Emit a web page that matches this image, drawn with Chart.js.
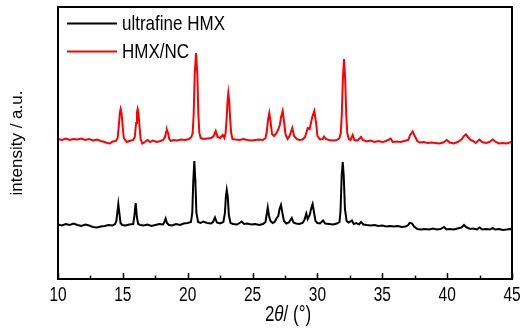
<!DOCTYPE html>
<html>
<head>
<meta charset="utf-8">
<script src="https://cdn.jsdelivr.net/npm/chart.js@4.4.1/dist/chart.umd.min.js"></script>
<style>
  html, body { margin: 0; padding: 0; background: #fff; }
  #wrap { width: 522px; height: 332px; position: relative; }
</style>
</head>
<body>
<div id="wrap"><canvas id="xrd"></canvas></div>
<script>
// XRD patterns, [2theta, intensity a.u.] (HMX/NC is offset upward)
const ultrafineHmx = [
    [10.0, 54.5], [10.3, 53.5], [10.6, 55], [10.9, 54], [11.2, 55.5], [11.5, 54], [11.8, 53],
    [12.1, 54.5], [12.4, 53.5], [12.7, 52], [13.0, 51.5], [13.3, 52.5], [13.6, 53], [13.9, 54],
    [14.2, 53.5], [14.4, 55],
    [14.5, 58], [14.57, 66], [14.65, 75], [14.73, 66], [14.82, 56], [14.95, 54],
    [15.2, 53.5], [15.5, 54.5], [15.8, 55],
    [15.88, 62], [15.99, 76], [16.08, 62], [16.18, 55], [16.35, 54],
    [16.6, 53.5], [16.9, 54.5], [17.2, 53], [17.5, 54], [17.8, 55], [18.1, 54.5],
    [18.2, 57], [18.3, 60.5], [18.4, 56], [18.55, 54],
    [18.8, 53.5], [19.1, 55], [19.4, 54], [19.7, 55.5], [20.0, 56], [20.25, 57],
    [20.35, 66], [20.43, 98], [20.51, 118], [20.59, 98], [20.67, 66], [20.8, 57],
    [21.0, 56], [21.2, 57.5], [21.5, 56], [21.8, 55.5], [21.95, 57], [22.1, 61.5], [22.25, 56.5],
    [22.5, 55.5], [22.75, 57],
    [22.87, 66], [22.94, 82], [23.01, 89], [23.09, 82], [23.17, 64], [23.3, 56], [23.5, 55],
    [23.8, 54.5], [24.0, 56], [24.16, 57.5], [24.35, 55], [24.6, 55.5], [24.9, 54.5], [25.2, 55],
    [25.5, 54], [25.8, 55], [26.0, 57],
    [26.08, 64], [26.17, 71.5], [26.27, 63], [26.38, 58], [26.55, 56], [26.7, 57],
    [26.86, 61], [26.98, 63], [27.08, 70], [27.19, 74], [27.3, 66], [27.42, 58], [27.6, 55.5],
    [27.8, 56.5], [28.02, 61], [28.15, 56.5], [28.35, 55.5], [28.6, 55], [28.85, 56], [29.0, 59],
    [29.14, 65.5], [29.25, 60], [29.4, 64], [29.55, 72], [29.63, 75], [29.72, 68], [29.85, 58],
    [30.0, 56], [30.2, 55.5], [30.43, 58.5], [30.6, 55.5], [30.9, 55], [31.2, 54.5], [31.5, 55.5],
    [31.7, 57],
    [31.78, 68], [31.87, 103], [31.95, 117], [32.03, 103], [32.12, 70], [32.25, 58],
    [32.4, 56.5], [32.55, 57.5], [32.66, 58.5], [32.8, 55], [33.0, 56], [33.2, 54.5], [33.36, 57],
    [33.55, 54.5], [33.8, 54], [34.1, 53.5], [34.4, 54], [34.7, 53], [35.0, 53.5], [35.3, 52.5],
    [35.6, 53], [35.9, 52.5], [36.2, 53], [36.5, 52], [36.8, 52.5], [37.0, 54],
    [37.1, 56], [37.19, 56], [37.3, 55.5], [37.45, 52.5],
    [37.7, 50], [38.0, 49.5], [38.3, 50], [38.6, 49.5], [38.9, 50.5], [39.2, 49.5], [39.5, 50],
    [39.76, 52], [39.95, 49.5], [40.2, 50], [40.5, 49.5], [40.8, 50.5], [41.1, 51.5], [41.3, 54],
    [41.45, 52], [41.6, 51], [41.8, 50], [42.0, 50.5], [42.3, 49.5], [42.5, 51.5], [42.7, 49.5],
    [43.0, 50], [43.3, 49.5], [43.5, 51], [43.7, 49.5], [44.0, 50], [44.3, 49], [44.6, 49.5],
    [44.8, 50], [45.0, 49.5]
];

const hmxNc = [
    [10.0, 140], [10.3, 139], [10.6, 140.5], [10.9, 139], [11.2, 140], [11.5, 139.5], [11.8, 140.5],
    [12.1, 139], [12.4, 140], [12.7, 138.5], [13.0, 139.5], [13.3, 138], [13.6, 137], [13.8, 136],
    [14.0, 135.5], [14.2, 137.5], [14.45, 138],
    [14.6, 141], [14.7, 155], [14.77, 166], [14.83, 170], [14.9, 166], [14.97, 155], [15.07, 141],
    [15.3, 137], [15.5, 138], [15.8, 139],
    [15.92, 142], [16.02, 156], [16.09, 167], [16.14, 170], [16.2, 166], [16.27, 155], [16.37, 140],
    [16.5, 135.5],
    [16.7, 137], [16.9, 139], [17.1, 137], [17.3, 138.5], [17.6, 137], [17.9, 138], [18.1, 139],
    [18.25, 142], [18.33, 147], [18.4, 149], [18.48, 146], [18.58, 140], [18.7, 138],
    [18.9, 139], [19.2, 138.5], [19.5, 139.5], [19.8, 139], [20.1, 140], [20.28, 142],
    [20.38, 146], [20.46, 165], [20.54, 205], [20.64, 226], [20.74, 205], [20.82, 165], [20.9, 146],
    [21.0, 141],
    [21.2, 140], [21.5, 140.5], [21.8, 141], [22.0, 143], [22.16, 148], [22.3, 142], [22.5, 141],
    [22.7, 144], [22.83, 141],
    [22.92, 146], [23.0, 160], [23.07, 178], [23.13, 186], [23.2, 178], [23.27, 160], [23.35, 146],
    [23.45, 140],
    [23.7, 139.5], [24.0, 139], [24.3, 140], [24.6, 139], [24.9, 138.5], [25.2, 139], [25.5, 139.5],
    [25.8, 139], [26.0, 141],
    [26.1, 148], [26.2, 160], [26.29, 166], [26.38, 158], [26.5, 145], [26.65, 143], [26.8, 145],
    [26.96, 149], [27.1, 154], [27.2, 162], [27.32, 168], [27.43, 157], [27.55, 144], [27.7, 140],
    [27.85, 143], [28.06, 151], [28.2, 143], [28.4, 140], [28.6, 139], [28.85, 139.5], [29.05, 142],
    [29.25, 151], [29.4, 150], [29.6, 162], [29.76, 168], [29.9, 156], [30.0, 143], [30.2, 139.5],
    [30.4, 140], [30.51, 142.5], [30.65, 140], [30.9, 139], [31.2, 138.5], [31.5, 139], [31.7, 141],
    [31.8, 146], [31.88, 165], [31.96, 200], [32.05, 220], [32.14, 200], [32.22, 165], [32.3, 146],
    [32.42, 140], [32.55, 139],
    [32.72, 144], [32.85, 139], [33.1, 138.5], [33.36, 142], [33.5, 139],
    [33.8, 137.5], [34.1, 138.5], [34.4, 137], [34.7, 138], [35.0, 137], [35.3, 138], [35.65, 140.5],
    [35.8, 137], [36.1, 137.5], [36.4, 137], [36.7, 138], [37.0, 139],
    [37.15, 144], [37.34, 147.5], [37.5, 143], [37.7, 138], [37.9, 136.5],
    [38.2, 137], [38.5, 136], [38.8, 136.5], [39.1, 136], [39.4, 135.5], [39.7, 136.5], [39.97, 139],
    [40.2, 136.5], [40.5, 135.5], [40.8, 137], [41.1, 139.5], [41.3, 143], [41.45, 144.5],
    [41.6, 142], [41.8, 139], [42.0, 138], [42.2, 136], [42.48, 139.5], [42.7, 137], [43.0, 136],
    [43.25, 137], [43.51, 139.5], [43.75, 137], [44.0, 135.5], [44.3, 136], [44.6, 135.5],
    [44.8, 136.5], [45.0, 137]
];

const seriesNames = ['ultrafine HMX', 'HMX/NC'];
const seriesColors = ['#000000', '#ff0000'];
const xTickValues = [10, 15, 20, 25, 30, 35, 40, 45];

const FONT = 'Arial, "Liberation Sans", sans-serif';

// the original figure's lettering is stretched vertically, so text is drawn scaled
function stretchedText(ctx, text, x, y, font, sy, align) {
    ctx.save();
    ctx.font = font;
    ctx.textAlign = align || 'left';
    ctx.textBaseline = 'middle';
    ctx.translate(x, y);
    ctx.scale(1, sy);
    ctx.fillText(text, 0, 0);
    ctx.restore();
}

// frame, inward ticks (major every 5, minor every 2.5), tick labels, legend and the 2θ title
const framePlugin = {
    id: 'frame',
    afterDraw(chart) {
        const { ctx, chartArea: a, scales } = chart;
        ctx.save();
        ctx.strokeStyle = '#000';
        ctx.lineWidth = 2;
        ctx.strokeRect(a.left, a.top, a.right - a.left, a.bottom - a.top);
        ctx.lineWidth = 1.5;
        for (let v = 10; v <= 45; v += 2.5) {
            const x = Math.round(scales.x.getPixelForValue(v)) + 0.5;
            const len = v % 5 === 0 ? 6 : 3.5;
            ctx.beginPath();
            ctx.moveTo(x, a.bottom);
            ctx.lineTo(x, a.bottom - len);
            ctx.stroke();
        }

        ctx.fillStyle = '#000';
        scales.x.ticks.forEach(t => {
            stretchedText(ctx, String(t.value), scales.x.getPixelForValue(t.value), a.bottom + 16,
                '15.5px ' + FONT, 1.3, 'center');
        });

        // legend inside the frame, top left
        chart.data.datasets.forEach((ds, i) => {
            const y = a.top + 16.5 + i * 28;
            ctx.strokeStyle = ds.borderColor;
            ctx.lineWidth = 2;
            ctx.beginPath();
            ctx.moveTo(a.left + 9, y);
            ctx.lineTo(a.left + 59, y);
            ctx.stroke();
            ctx.fillStyle = '#000';
            stretchedText(ctx, ds.label, a.left + 64, y + 1, '17px ' + FONT, 1.18);
        });

        // x title with italic theta
        const parts = [['2', 'normal'], ['\u03B8', 'italic'], ['/ (\u00B0)', 'normal']];
        let total = 0;
        parts.forEach(p => { ctx.font = p[1] + ' 17px ' + FONT; total += ctx.measureText(p[0]).width; });
        let x = (a.left + a.right) / 2 + 3 - total / 2;
        parts.forEach(p => {
            const f = p[1] + ' 17px ' + FONT;
            stretchedText(ctx, p[0], x, 315, f, 1.25);
            ctx.font = f;
            x += ctx.measureText(p[0]).width;
        });
        ctx.restore();
    }
};

new Chart(document.getElementById('xrd'), {
    type: 'line',
    data: {
        datasets: [ultrafineHmx, hmxNc].map((pts, i) => ({
            label: seriesNames[i],
            data: pts.map(p => ({ x: p[0], y: p[1] })),
            borderColor: seriesColors[i],
            backgroundColor: seriesColors[i],
            borderWidth: 2,
            pointRadius: 0,
            tension: 0,
            fill: false,
        }))
    },
    options: {
        responsive: true,
        maintainAspectRatio: false,
        animation: false,
        layout: { padding: { top: 7, right: 10, left: 0, bottom: 0 } },
        plugins: {
            tooltip: { enabled: false },
            legend: { display: false }
        },
        scales: {
            x: {
                type: 'linear',
                min: 10,
                max: 45,
                afterFit: s => { s.height = 53; },
                afterBuildTicks: s => { s.ticks = xTickValues.map(v => ({ value: v })); },
                grid: { display: false, drawTicks: false },
                border: { display: false },
                ticks: { display: false },
            },
            y: {
                min: 0,
                max: 272,
                afterFit: s => { s.width = 58; },
                grid: { display: false, drawTicks: false },
                border: { display: false },
                ticks: { display: false },
                title: {
                    display: true,
                    text: 'intensity / a.u.',
                    color: '#000',
                    padding: { top: 7, bottom: 0 },
                    font: { family: FONT, size: 17 },
                }
            }
        }
    },
    plugins: [framePlugin]
});
</script>
</body>
</html>
